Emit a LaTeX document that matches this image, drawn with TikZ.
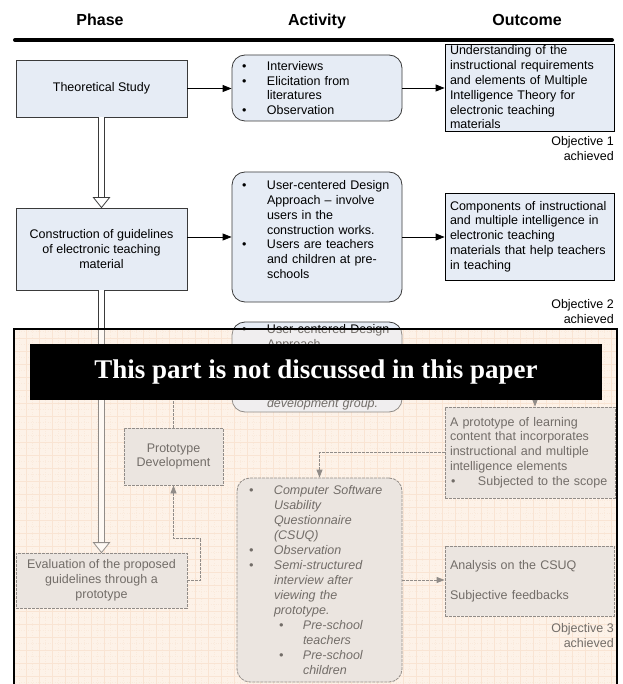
\documentclass[tikz,border=0pt]{standalone}
\usepackage{fontspec}
\setmainfont{Liberation Sans}
\newfontfamily\bannerfont{Liberation Serif}
\usetikzlibrary{arrows.meta,calc}
\definecolor{boxblue}{HTML}{E6ECF5}
\definecolor{boxline}{HTML}{3A3A3A}
\definecolor{peach}{HTML}{FDF2E8}
\definecolor{gridc}{HTML}{F6D9C2}
\definecolor{gridm}{HTML}{F9E4D3}
\definecolor{fadefill}{HTML}{DEDBDA}
\newcommand\bu{\hspace*{5pt}\makebox[25pt][l]{\textbullet}}
\newcommand\ind{\hspace*{30pt}}
\newcommand\bub{\hspace*{7pt}\makebox[25pt][l]{\textbullet}}
\newcommand\indb{\hspace*{32pt}}
\newcommand\sbu{\hspace*{37pt}\makebox[24pt][l]{\textbullet}}
\newcommand\sind{\hspace*{61pt}}
\tikzset{
  txt/.style={font=\fontsize{12.5}{14.8}\selectfont},
  phasebox/.style={txt, draw=boxline, fill=boxblue, line width=0.8pt, inner sep=0pt, align=center},
  actbox/.style={txt, draw=boxline, fill=boxblue, line width=0.8pt, rounded corners=13pt, inner xsep=5pt, inner ysep=0pt, align=left},
  outbox/.style={txt, draw=black, fill=boxblue, line width=0.8pt, inner xsep=5pt, inner ysep=0pt, align=left},
  fphase/.style={phasebox, fill=fadefill, dash pattern=on 3pt off 1pt},
  fact/.style={actbox, fill=fadefill, dash pattern=on 3pt off 1pt},
  fout/.style={outbox, draw=boxline, fill=fadefill, dash pattern=on 3pt off 1pt},
  arr/.style={draw=black, line width=0.8pt, -{Triangle[length=9pt,width=7pt]}},
  farr/.style={draw=boxline, line width=0.8pt, dash pattern=on 3pt off 1pt, -{Triangle[length=8pt,width=6pt]}},
  fline/.style={draw=boxline, line width=0.8pt, dash pattern=on 3pt off 1pt},
  dbl/.style={draw=boxline, line width=0.8pt, double=white, double distance=4.5pt},
  htip/.style={draw=boxline, line width=0.8pt, fill=white, line join=miter},
  head/.style={font=\fontsize{16}{19}\selectfont\bfseries, anchor=base},
  objtxt/.style={txt, align=right, inner sep=0pt, anchor=north east},
}
\begin{document}
\begin{tikzpicture}[x=1pt,y=-1pt]
\useasboundingbox (0,0) rectangle (622,684);
\clip (0,0) rectangle (622,684);
\fill[white] (0,0) rectangle (622,684);

% header
\node[head] (hp) at (100,26) {Phase};
\node[head] (ha) at (317,26) {Activity};
\node[head] (ho) at (527,26) {Outcome};
\draw[line width=4pt, line cap=round] (15,40) -- (612,40);

% row 1
\node[phasebox, minimum width=171pt, minimum height=57pt] (ts) at (101.5,88.5) {Theoretical Study};
\node[actbox, minimum width=170pt, minimum height=66pt, text width=160pt] (a1) at (317,88)
 {\bu Interviews\\ \bu Elicitation from\\ \ind literatures\\ \bu Observation};
\node[outbox, minimum width=169pt, minimum height=87pt, text width=159pt] (o1) at (529.5,87.5)
 {Understanding of the\\ instructional requirements\\ and elements of Multiple\\ Intelligence Theory for\\ electronic teaching\\ materials};
\node[objtxt] (ob1) at (614,136) {Objective 1\\ achieved};
\draw[arr] (ts.east) -- (ts.east -| a1.west);
\draw[arr] (a1.east) -- (a1.east -| o1.west);

% row 2
\node[phasebox, minimum width=171pt, minimum height=82pt] (cg) at (101.5,249)
 {Construction of guidelines\\ of electronic teaching\\ material};
\node[actbox, minimum width=170pt, minimum height=130pt, text width=160pt] (a2) at (317,237)
 {\bu User-centered Design\\ \ind Approach -- involve\\ \ind users in the\\ \ind construction works.\\ \bu Users are teachers\\ \ind and children at pre-\\ \ind schools\\ \mbox{}};
\node[outbox, minimum width=169pt, minimum height=87pt, text width=159pt] (o2) at (529.5,236.5)
 {Components of instructional\\ and multiple intelligence in\\ electronic teaching\\ materials that help teachers\\ in teaching};
\node[objtxt] (ob2) at (614,299) {Objective 2\\ achieved};
\draw[arr] (cg.east |- a2.west) -- (a2.west);
\draw[arr] (a2.east) -- (a2.east -| o2.west);

% double arrow 1
\draw[dbl] (ts.south) -- ($(cg.north)+(0,-10)$);
\draw[htip] ($(cg.north)+(-8,-10)$) -- (cg.north) -- ($(cg.north)+(8,-10)$) -- cycle;

% overlay background
\fill[peach] (14,329) rectangle (617,700);
\draw[gridm, line width=0.4pt, dotted, step=6.5pt] (14,329) grid (617,700);
\draw[gridc, line width=0.5pt, step=13pt] (14,329) grid (617,700);

% row 3 (faded part)
\node[actbox, minimum width=170pt, minimum height=90pt, text width=160pt] (a3) at (317,367)
 {\bu User-centered Design\\ \ind Approach\\ \mbox{}\\ \mbox{}\\ \mbox{}\\ \ind\textit{development group.}};
\node[fphase, minimum width=99pt, minimum height=57pt] (pd) at (173.5,456.5) {Prototype\\ Development};
\node[fout, minimum width=170pt, minimum height=91pt, text width=160pt] (op) at (530,452.5)
 {A prototype of learning\\ content that incorporates\\ instructional and multiple\\ intelligence elements\\ \makebox[28pt][l]{\hspace*{1pt}\textbullet}Subjected to the scope};
\node[fact, minimum width=165pt, minimum height=204pt, text width=155pt, font=\fontsize{12.5}{15}\selectfont\itshape] (a4) at (319.5,580)
 {\bub Computer Software\\ \indb Usability\\ \indb Questionnaire\\ \indb (CSUQ)\\ \bub Observation\\ \bub Semi-structured\\ \indb interview after\\ \indb viewing the\\ \indb prototype.\\ \sbu Pre-school\\ \sind teachers\\ \sbu Pre-school\\ \sind children};
\node[fphase, minimum width=171pt, minimum height=55pt] (ev) at (101.5,580.5)
 {Evaluation of the proposed\\ guidelines through a\\ prototype};
\node[fout, minimum width=169pt, minimum height=70pt, text width=159pt] (an) at (529.5,581)
 {Analysis on the CSUQ\\[15pt] Subjective feedbacks};
\node[objtxt] (ob3) at (614,623) {Objective 3\\ achieved};

\draw[dbl] (cg.south) -- ($(ev.north)+(0,-10)$);
\draw[htip] ($(ev.north)+(-8,-10)$) -- (ev.north) -- ($(ev.north)+(8,-10)$) -- cycle;

\coordinate (h1) at (173.5,372);
\coordinate (h2) at (535,372);
\draw[fline] (pd.north) -- (h1);
\draw[farr] (h2) -- (h2 |- op.north);
\draw[farr] (op.west) -| (a4.north);
\draw[farr] (ev.east) -- ++(13,0) -- ++(0,-42) -| (pd.south);
\draw[farr] (a4.east) -- (a4.east -| an.west);

% fade layer
\fill[peach, opacity=0.45] (14,329) rectangle (617,700);
\draw[black, line width=1.6pt] (14,329) rectangle (617,700);

% banner
\node[fill=black, text=white, minimum width=572pt, minimum height=56pt, inner sep=0pt,
      font=\bannerfont\bfseries\fontsize{27}{30}\selectfont] (bn) at (316,372)
 {This part is not discussed in this paper};
\end{tikzpicture}
\end{document}
